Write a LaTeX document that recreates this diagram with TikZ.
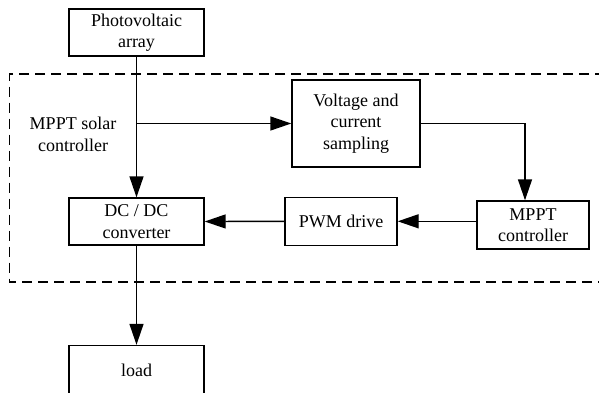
\documentclass[tikz,border=0pt]{standalone}
\usepackage{fontspec}
\setmainfont{Liberation Serif}
\usetikzlibrary{arrows.meta}
\begin{document}
\begin{tikzpicture}[x=1pt,y=-1pt,
  blk/.style={draw,line width=1.4pt,inner sep=0pt,align=center,
    font=\fontsize{18}{21.5}\selectfont},
  arr/.style={line width=1.4pt,-{Triangle[length=21pt,width=14pt]}},
  dsh/.style={line width=1.4pt,dash pattern=on 10pt off 6pt}]
\useasboundingbox (0,0) rectangle (599,392);
\clip (0,0) rectangle (599,392);
\node[blk,minimum width=135pt,minimum height=47pt] (pv) at (136.5,32.5) {Photovoltaic\\array};
\node[blk,minimum width=128pt,minimum height=87pt] (vc) at (356,123.5) {Voltage and\\current\\sampling};
\node[blk,minimum width=135pt,minimum height=47pt] (dc) at (136.5,221.5) {DC / DC\\converter};
\node[blk,minimum width=112pt,minimum height=48pt] (pwm) at (341,221.3) {PWM drive};
\node[blk,minimum width=112pt,minimum height=48pt] (mp) at (533,225) {MPPT\\controller};
\node[blk,minimum width=135pt,minimum height=54pt,text depth=4pt] (ld) at (136.5,372.5) {load};
\node[align=center,font=\fontsize{18}{22}\selectfont] (lbl) at (73,134) {MPPT solar\\controller};
\draw[dsh] (605,74) -- (9.5,74) -- (9.5,282) -- (605,282);
\coordinate (br) at (pv.south |- vc.west);
\draw[arr] (pv.south) -- (dc.north);
\draw[arr] (br) -- (vc.west);
\draw[arr] (vc.east) -| ([xshift=-8pt]mp.north);
\draw[arr] (mp.west |- pwm.east) -- (pwm.east);
\draw[arr] (pwm.west) -- (dc.east);
\draw[arr] (dc.south) -- (ld.north);
\end{tikzpicture}
\end{document}
